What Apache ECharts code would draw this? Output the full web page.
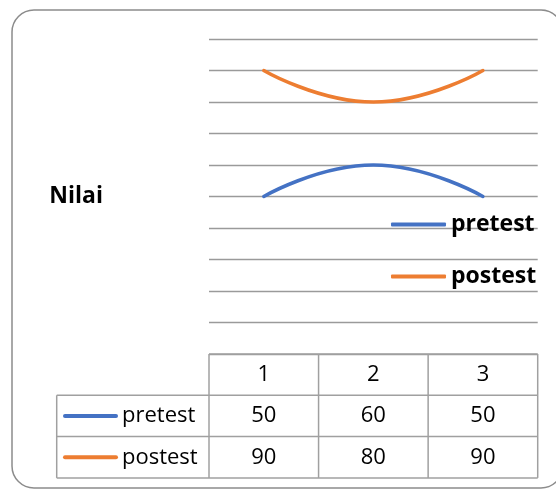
<!DOCTYPE html>
<html><head><meta charset="utf-8">
<script src="https://cdn.jsdelivr.net/npm/echarts@6/dist/echarts.min.js"></script>
<style>html,body{margin:0;padding:0;background:#fff}#c{width:556px;height:489px}</style>
</head><body><div id="c"></div>
<script>
const categories = ['1', '2', '3'];
const seriesNames = ['pretest', 'postest'];
const pretest = [50, 60, 50];
const postest = [90, 80, 90];
const seriesValues = [pretest, postest];
const colors = ['#4472C4', '#ED7D31'];
const yMin = 0, yMax = 100, yInterval = 10;
const axisTitle = 'Nilai';

const FONT = '"Open Sans", "Noto Sans", sans-serif';
const chart = echarts.init(document.getElementById('c'), null, {renderer: 'canvas'});

const option = {
  animation: false,
  grid: {left: 209, right: 18.3, top: 39, bottom: 135},
  xAxis: {
    type: 'category', data: categories, boundaryGap: true,
    axisLine: {show: false}, axisTick: {show: false}, axisLabel: {show: false}, splitLine: {show: false}
  },
  yAxis: {
    type: 'value', min: yMin, max: yMax, interval: yInterval,
    name: axisTitle, nameLocation: 'middle', nameRotate: 0, nameGap: 106,
    nameTextStyle: {fontFamily: FONT, fontWeight: 'bold', fontSize: 23, color: '#000', align: 'right', verticalAlign: 'middle'},
    axisLabel: {show: false}, axisLine: {show: false}, axisTick: {show: false},
    splitLine: {lineStyle: {color: '#9a9a9a', width: 1.3}}
  },
  legend: {
    orient: 'vertical', left: 391, top: 213, itemGap: 29, padding: 0,
    icon: 'roundRect', itemWidth: 55, itemHeight: 4,
    textStyle: {fontFamily: FONT, fontWeight: 'bold', fontSize: 23, color: '#000', padding: [0, 0, 0, 0]},
    itemStyle: {borderWidth: 0},
    data: seriesNames
  },
  series: seriesNames.map((n, i) => ({
    name: n, type: 'line', data: seriesValues[i], smooth: true, showSymbol: false, symbol: 'none',
    lineStyle: {color: colors[i], width: 3.5, cap: 'round'},
    itemStyle: {color: colors[i]}
  }))
};
chart.setOption(option);

// Data table built from the arrays, positioned on the library's scales
const xs = categories.map((c, i) => chart.convertToPixel({xAxisIndex: 0}, i));
const band = xs.length > 1 ? xs[1] - xs[0] : 100;
const xLeft = xs[0] - band / 2;
const xRight = xs[xs.length - 1] + band / 2;
const y0 = chart.convertToPixel({yAxisIndex: 0}, yMin);
const rowH = 41.3;
const tableLeft = 56.7;
const lineCol = '#a0a0a0';
const g = [];
function ln(x1, y1, x2, y2) {
  g.push({type: 'line', silent: true, shape: {x1, y1, x2, y2}, style: {stroke: lineCol, lineWidth: 1.5}});
}
function tx(text, x, y, align) {
  g.push({type: 'text', silent: true, x, y, style: {text, fill: '#000', fontFamily: FONT, fontSize: 22, align, verticalAlign: 'middle'}});
}
const nRows = seriesNames.length + 1;
ln(xLeft, y0, xRight, y0);
for (let r = 1; r <= nRows; r++) ln(tableLeft, y0 + r * rowH, xRight, y0 + r * rowH);
ln(tableLeft, y0 + rowH, tableLeft, y0 + nRows * rowH);
for (let c = 0; c <= categories.length; c++) {
  const x = xLeft + c * band;
  ln(x, y0, x, y0 + nRows * rowH);
}
categories.forEach((c, i) => tx(c, xs[i], y0 + rowH / 2, 'center'));
seriesNames.forEach((n, s) => {
  const yc = y0 + (s + 1.5) * rowH;
  g.push({type: 'line', silent: true, shape: {x1: 65, y1: yc, x2: 116, y2: yc}, style: {stroke: colors[s], lineWidth: 4, lineCap: 'round'}});
  tx(n, 122, yc, 'left');
  seriesValues[s].forEach((v, i) => tx(String(v), xs[i], yc, 'center'));
});
// chart area border
g.push({type: 'rect', silent: true, shape: {x: 12, y: 10, width: 551, height: 478, r: 22}, style: {fill: null, stroke: '#8c8c8c', lineWidth: 1.5}});
chart.setOption({graphic: g});
</script>
</body></html>
